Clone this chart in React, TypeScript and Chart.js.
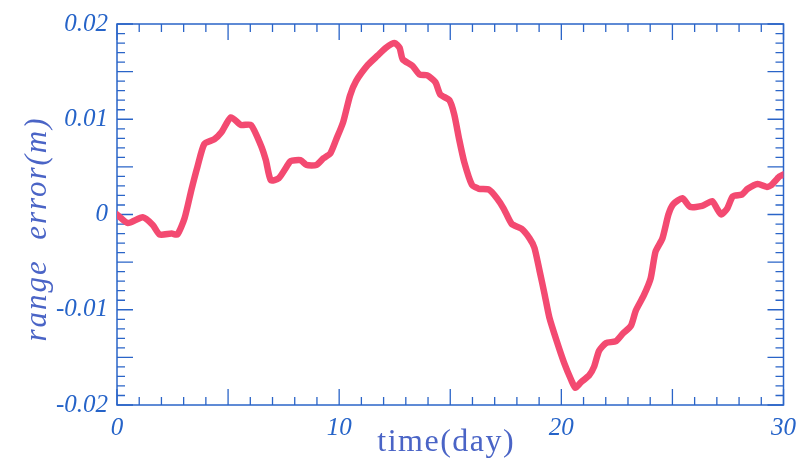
import React, { useEffect, useRef } from "react";
import { Chart, registerables } from "chart.js";

Chart.register(...registerables);

const days = [
  0, 0.49, 1.16, 1.61, 1.92, 2.46, 2.72, 3.04, 3.35, 3.62, 3.93, 4.38, 4.69, 5.13, 5.58, 6.03, 6.47, 6.7, 6.92,
  7.28, 7.63, 7.81, 8.26, 8.53, 8.97, 9.29, 9.6, 9.87, 10.18, 10.49, 10.76, 11.29, 11.74, 12.1, 12.5, 12.72,
  12.86, 13.3, 13.62, 13.97, 14.33, 14.55, 14.96, 15.18, 15.4, 15.63, 15.98, 16.29, 16.74, 17.1, 17.41, 17.77,
  18.21, 18.57, 18.79, 19.02, 19.24, 19.46, 19.78, 20.13, 20.45, 20.63, 20.89, 21.25, 21.47, 21.7, 22.01,
  22.46, 22.77, 23.13, 23.35, 23.71, 24.02, 24.24, 24.55, 24.82, 25.04, 25.45, 25.8, 26.34, 26.79, 27.01,
  27.19, 27.46, 27.72, 28.13, 28.39, 28.84, 29.24, 29.46, 29.82, 30,
];

const rangeError = [
  0.0, -0.0009, -0.0003, -0.0011, -0.0021, -0.002, -0.0021, -0.0004, 0.0026, 0.005, 0.0074, 0.0079, 0.0086,
  0.0102, 0.0094, 0.0094, 0.0073, 0.0057, 0.0036, 0.0038, 0.005, 0.0056, 0.0057, 0.0052, 0.0052, 0.0059,
  0.0064, 0.0079, 0.0097, 0.0125, 0.014, 0.0157, 0.0167, 0.0175, 0.018, 0.0175, 0.0163, 0.0156, 0.0147,
  0.0146, 0.0139, 0.0126, 0.012, 0.0105, 0.0079, 0.0055, 0.0031, 0.0027, 0.0026, 0.0017, 0.0006, -0.001,
  -0.0015, -0.0025, -0.0035, -0.0059, -0.0083, -0.0108, -0.0132, -0.0156, -0.0174, -0.0182, -0.0176,
  -0.0169, -0.016, -0.0143, -0.0135, -0.0133, -0.0125, -0.0117, -0.0101, -0.0085, -0.0067, -0.0039,
  -0.0025, 0.0, 0.0011, 0.0017, 0.0008, 0.0009, 0.0014, 0.0006, 0.0, 0.0006, 0.0019, 0.0021, 0.0027,
  0.0032, 0.0029, 0.0031, 0.004, 0.0042,
];

const xTickValues = [0, 10, 20, 30];
const yTickValues = [-0.02, -0.01, 0, 0.01, 0.02];
const xTitle = "time(day)";
const yTitle = "range  error(m)";

const AXIS_COLOR = "#2a64c8";
const TICK_LABEL_COLOR = "#2563c8";
const TITLE_COLOR = "#4a64c6";
const LINE_COLOR = "#f34a71";

const framePlugin = {
  id: "frameTicks",
  beforeDatasetsDraw(chart: any) {
    const { ctx, chartArea, scales } = chart;
    const { left, right, top, bottom } = chartArea;
    ctx.save();
    ctx.strokeStyle = AXIS_COLOR;
    ctx.lineWidth = 1.5;
    ctx.strokeRect(left, top, right - left, bottom - top);
    ctx.lineWidth = 1.3;
    ctx.beginPath();
    for (let d = 0; d <= 30; d++) {
      const x = scales.x.getPixelForValue(d);
      const len = d % 5 === 0 ? 16 : 8;
      ctx.moveTo(x, bottom);
      ctx.lineTo(x, bottom - len);
      ctx.moveTo(x, top);
      ctx.lineTo(x, top + len);
    }
    for (let k = -20; k <= 20; k++) {
      const y = scales.y.getPixelForValue(k / 1000);
      const len = k % 5 === 0 ? 16 : 8;
      ctx.moveTo(left, y);
      ctx.lineTo(left + len, y);
      ctx.moveTo(right, y);
      ctx.lineTo(right - len, y);
    }
    ctx.stroke();
    ctx.restore();
  },
  afterDraw(chart: any) {
    const { ctx, chartArea } = chart;
    ctx.save();
    ctx.fillStyle = TITLE_COLOR;
    ctx.textAlign = "center";
    ctx.textBaseline = "middle";
    ctx.font = "32px 'Liberation Serif'";
    (ctx as any).letterSpacing = "1.5px";
    ctx.fillText(xTitle, (chartArea.left + chartArea.right) / 2 - 4, 443);
    ctx.translate(38, 229);
    ctx.rotate(-Math.PI / 2);
    ctx.font = "italic 31px 'Liberation Serif'";
    (ctx as any).letterSpacing = "2px";
    ctx.fillText(yTitle, 0, 0);
    ctx.restore();
  },
};

export default function App() {
  const canvasRef = useRef<HTMLCanvasElement | null>(null);

  useEffect(() => {
    const canvas = canvasRef.current;
    if (!canvas) return;
    const chart = new Chart(canvas, {
      type: "line",
      data: {
        datasets: [
          {
            data: days.map((d, i) => ({ x: d, y: rangeError[i] })),
            borderColor: LINE_COLOR,
            borderWidth: 6.5,
            pointRadius: 0,
            tension: 0.2,
            borderCapStyle: "round",
            borderJoinStyle: "round",
            fill: false,
          },
        ],
      },
      options: {
        responsive: false,
        animation: false,
        layout: { padding: { top: 21, right: 15, left: 0, bottom: 0 } },
        plugins: {
          legend: { display: false },
          tooltip: { enabled: false },
          title: { display: false },
        },
        scales: {
          x: {
            type: "linear",
            min: 0,
            max: 30,
            grid: { display: false, drawTicks: false },
            border: { display: false },
            afterBuildTicks: (scale: any) => {
              scale.ticks = xTickValues.map((v) => ({ value: v }));
            },
            afterFit: (scale: any) => {
              scale.height = 56;
            },
            ticks: {
              padding: 8,
              color: TICK_LABEL_COLOR,
              font: { family: "'Liberation Serif'", style: "italic", size: 25 },
              maxRotation: 0,
              callback: (v: any) => String(v),
            },
          },
          y: {
            type: "linear",
            min: -0.02,
            max: 0.02,
            grid: { display: false, drawTicks: false },
            border: { display: false },
            afterBuildTicks: (scale: any) => {
              scale.ticks = yTickValues.map((v) => ({ value: v }));
            },
            afterFit: (scale: any) => {
              scale.width = 117;
            },
            ticks: {
              padding: 9,
              color: TICK_LABEL_COLOR,
              font: { family: "'Liberation Serif'", style: "italic", size: 25 },
              callback: (v: any) => {
                const n = Math.round(Number(v) * 100) / 100;
                return n === 0 ? "0" : n.toFixed(2);
              },
            },
          },
        },
      },
      plugins: [framePlugin],
    });
    return () => chart.destroy();
  }, []);

  return (
    <div style={{ position: "fixed", left: 0, top: 0, width: 804, height: 461, background: "#fff" }}>
      <canvas ref={canvasRef} width={804} height={461} style={{ width: 804, height: 461 }} />
    </div>
  );
}
